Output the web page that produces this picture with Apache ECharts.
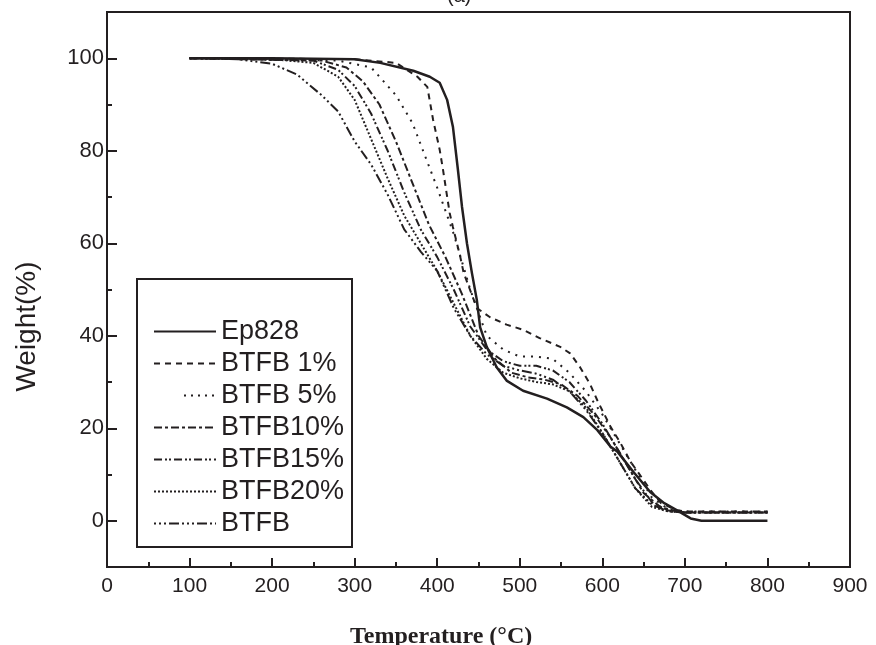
<!DOCTYPE html>
<html>
<head>
<meta charset="utf-8">
<script src="https://cdn.jsdelivr.net/npm/echarts@6/dist/echarts.min.js"></script>
<style>html,body{margin:0;padding:0;background:#fff}#c{width:876px;height:645px}</style>
</head>
<body>
<div id="c"></div>
<script>
// ---- data ----
var seriesNames = ['Ep828', 'BTFB 1%', 'BTFB 5%', 'BTFB10%', 'BTFB15%', 'BTFB20%', 'BTFB'];

var ep828T = [100,200,300,331,371,391,403,412,419,425,430,436,442,448,452,460,472,484,504,533,557,577,594,610,618,638,658,675,690,707,720,800];
var ep828W = [100,100,99.8,99,97.3,96,94.7,91,85.2,76,67.9,60,53.6,47.7,41.8,37.6,33.2,30.3,28.1,26.4,24.5,22.4,19.6,16,15,10.5,6.2,3.8,2.3,0.5,0,0];

var b1T = [100,300,350,376,388,395,403,407,415,419,428,432,448,464,484,504,524,549,561,573,585,594,610,622,634,644,658,671,690,700,800];
var b1W = [100,99.8,99,96,93.8,86.7,80.2,75.9,66.6,63.5,57,53.6,46,44,42.4,41.3,39.5,37.6,36.2,33.2,29.6,26,20.3,16.8,12.8,10.3,6.7,3.8,2.3,2,2];

var b5T = [100,280,320,350,370,385,400,420,440,460,480,500,520,540,560,580,600,620,640,660,680,700,800];
var b5W = [100,99.5,98,92,86,79,72,62,50,40,37,35.5,35.5,35,32,28,23,17,11,5,2.5,2,2];

var b10T = [100,260,290,310,330,350,370,390,410,430,450,470,490,510,530,550,570,590,610,630,650,670,690,700,800];
var b10W = [100,99.5,98,95,90,82,73,64,57,49,40,35,32,31,30.5,29.5,27,23,18,12,6,3,2,1.8,1.8];

var b15T = [100,250,280,300,320,340,360,380,400,420,440,460,480,500,520,540,560,580,600,620,640,660,680,700,800];
var b15W = [100,99.5,97.5,94,88,80,71,63,57,50,42,37,34.5,33.5,33.5,32.5,30,26,21,15,9,4,2.2,1.8,1.8];

var b20T = [100,200,250,280,300,320,340,360,380,400,420,440,460,480,500,520,540,560,580,600,620,640,660,680,700,800];
var b20W = [100,99.8,99,96,91,82.5,74,66,60,54,47,40,35,32,30.8,30,29.5,28,24.5,19,13,7,3,2,1.8,1.8];

var btfbT = [100,150,200,230,260,280,300,320,340,360,380,400,420,440,460,480,500,520,540,560,580,600,620,640,660,680,700,750,800];
var btfbW = [100,100,98.8,96.5,92,88.5,82,77,70.5,63,58.2,54,46,40,36,33.5,32.5,31.8,30.5,28,24,19,13,7,3.5,2,1.8,1.8,1.8];

var xTicks = [0,100,200,300,400,500,600,700,800,900];
var yTicks = [0,20,40,60,80,100];
var yMinorTicks = [10,30,50,70,90];

// ---- build ----
function zip(t, w) { return t.map(function (v, i) { return [v, w[i]]; }); }
var temps = [ep828T, b1T, b5T, b10T, b15T, b20T, btfbT];
var weights = [ep828W, b1W, b5W, b10W, b15W, b20W, btfbW];
var dashes = ['solid', [6,5], [2,6], [8,3,3,3], [8,3,2,2,2,3], [2,2], [2,3,2,3,2,3,10,3]];
var widths = [2.5, 2, 2, 2, 2, 2, 2];
var ink = '#231f20';

var series = seriesNames.map(function (n, i) {
  return {
    name: n, type: 'line', data: zip(temps[i], weights[i]),
    symbol: 'none', showSymbol: false, smooth: false,
    lineStyle: { color: ink, width: widths[i], type: dashes[i] },
    itemStyle: { color: ink }
  };
});

var legendData = seriesNames.map(function (n, i) {
  var d = { name: n };
  if (i === 2) d.lineStyle = { type: [0,30,2,5,2,5,2,5,2,5,2,100] };
  return d;
});

var chart = echarts.init(document.getElementById('c'), null, { renderer: 'canvas' });
chart.setOption({
  animation: false,
  backgroundColor: '#fff',
  title: [
    { text: 'Temperature (°C)', left: 345, top: 620,
      textStyle: { fontFamily: 'Liberation Serif', fontWeight: 'bold', fontSize: 24, color: ink } },
    { text: '(a)', left: 442, top: -19,
      textStyle: { fontFamily: 'Liberation Sans', fontWeight: 'normal', fontSize: 20, color: ink } }
  ],
  grid: { left: 107, right: 26, top: 12, bottom: 78, show: true, borderColor: ink, borderWidth: 2, backgroundColor: 'transparent' },
  legend: {
    orient: 'vertical', left: 153, top: 318, padding: 0,
    itemWidth: 62, itemHeight: 14, itemGap: 5,
    data: legendData,
    itemStyle: { color: 'rgba(0,0,0,0)', borderColor: 'rgba(0,0,0,0)', borderWidth: 0, opacity: 0 },
    textStyle: { fontFamily: 'Liberation Sans', fontSize: 27, color: ink, lineHeight: 24 },
    selectedMode: false
  },
  graphic: [
    { type: 'rect', shape: { x: 137, y: 279, width: 215, height: 268 },
      style: { fill: 'transparent', stroke: ink, lineWidth: 2 }, z: 1 }
  ],
  xAxis: {
    type: 'value', min: 0, max: 900, interval: 100,
    axisLine: { show: true, onZero: false, lineStyle: { color: ink, width: 2 } },
    axisTick: { show: true, inside: true, length: 9, lineStyle: { color: ink, width: 2 } },
    minorTick: { show: true, splitNumber: 2, length: 5, lineStyle: { color: ink, width: 2 } },
    splitLine: { show: false },
    axisLabel: { fontFamily: 'Liberation Sans', fontSize: 21, color: ink, margin: 9,
      formatter: function (v) { return xTicks.indexOf(v) >= 0 ? String(v) : ''; } }
  },
  yAxis: [
    {
      type: 'value', min: -10, max: 110, interval: 10,
      name: 'Weight(%)', nameLocation: 'middle', nameGap: 66, nameRotate: 90,
      nameTextStyle: { fontFamily: 'Liberation Sans', fontSize: 28, color: ink, padding: [0, 74, 0, 0] },
      axisLine: { show: true, onZero: false, lineStyle: { color: ink, width: 2 } },
      axisTick: { show: true, inside: true, length: 10, customValues: yTicks, lineStyle: { color: ink, width: 2 } },
      axisLabel: { fontFamily: 'Liberation Sans', fontSize: 22, color: ink, margin: 3, customValues: yTicks },
      splitLine: { show: false }
    },
    {
      type: 'value', min: -10, max: 110, interval: 10, position: 'left',
      axisLine: { show: false, onZero: false },
      axisTick: { show: true, inside: true, length: 5, customValues: yMinorTicks, lineStyle: { color: ink, width: 2 } },
      axisLabel: { show: false },
      splitLine: { show: false }
    }
  ],
  series: series
});
</script>
</body>
</html>
